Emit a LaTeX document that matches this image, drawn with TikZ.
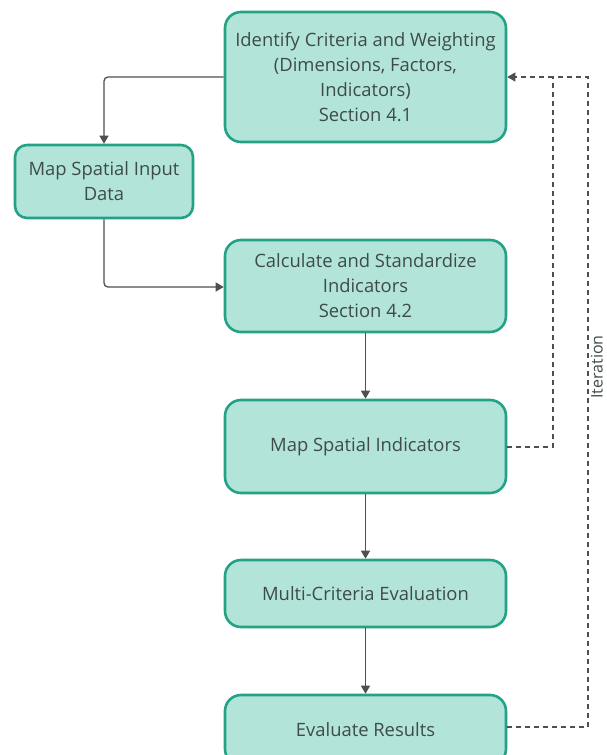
\documentclass[tikz,border=0pt]{standalone}
\usepackage{fontspec}
\setmainfont{Open Sans}
\usetikzlibrary{arrows.meta}
\definecolor{boxfill}{HTML}{B3E4D9}
\definecolor{boxline}{HTML}{23A286}
\definecolor{txt}{HTML}{3E4B4B}
\definecolor{conn}{HTML}{4F4F4F}
\tikzset{
  x=1pt,y=-1pt,
  procbox/.style={draw=boxline, fill=boxfill, line width=2.6pt, rounded corners=16pt,
    inner sep=0pt, align=center, text=txt, font=\fontsize{18.4}{25}\selectfont},
  conline/.style={draw=conn, line width=1.3pt, rounded corners=4pt, -{Triangle[length=8pt,width=9pt]}},
  dashline/.style={draw=conn, line width=1.2pt, dash pattern=on 5pt off 4pt},
}
\begin{document}
\begin{tikzpicture}
\useasboundingbox (0,0) rectangle (606,755);
\node[procbox, minimum width=281pt, minimum height=130pt] (b1) at (365.5,77)
  {Identify Criteria and Weighting\\(Dimensions, Factors,\\Indicators)\\Section 4.1};
\node[procbox, minimum width=178pt, minimum height=73pt, rounded corners=12pt] (b2) at (104,181.5)
  {Map Spatial Input\\Data};
\node[procbox, minimum width=281pt, minimum height=92pt] (b3) at (365.5,286)
  {Calculate and Standardize\\Indicators\\Section 4.2};
\node[procbox, minimum width=281pt, minimum height=93pt] (b4) at (365.5,446.5)
  {Map Spatial Indicators};
\node[procbox, minimum width=281pt, minimum height=67pt] (b5) at (365.5,593.5)
  {Multi-Criteria Evaluation};
\node[procbox, minimum width=281pt, minimum height=70pt] (b6) at (365.5,730)
  {Evaluate Results};
\node[rotate=90, text=txt, font=\fontsize{16}{18}\selectfont, anchor=south, inner sep=0pt] (it) at (603,367) {Iteration};

\coordinate (j1) at (553,77);
\coordinate (j2) at (588,77);

\draw[conline] (b1.west |- 0,77) -| (b2.north);
\draw[conline] (b2.south) |- (b3.west |- 0,287);
\draw[conline] (b3.south) -- (b4.north);
\draw[conline] (b4.south) -- (b5.north);
\draw[conline] (b5.south) -- (b6.north);

\draw[dashline] (b4.east |- 0,447) -| (j1);
\draw[dashline] (b6.east |- 0,727) -| (j2) -- (j1);
\draw[dashline, -{Triangle[length=8pt,width=9pt]}] (j1) -- (b1.east |- 0,77);
\end{tikzpicture}
\end{document}
